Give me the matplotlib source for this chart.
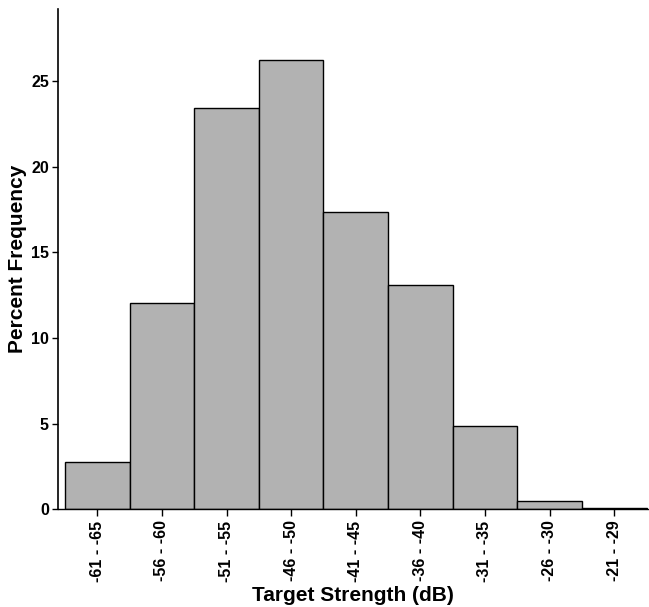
import matplotlib
matplotlib.use("Agg")
import matplotlib.pyplot as plt
import numpy as np

categories = ["-61 - -65", "-56 - -60", "-51 - -55", "-46 - -50", "-41 - -45",
              "-36 - -40", "-31 - -35", "-26 - -30", "-21 - -29"]
percent = [2.75, 12.05, 23.4, 26.25, 17.35, 13.1, 4.85, 0.5, 0.06]
yticks = [0, 5, 10, 15, 20, 25]

plt.rcParams['font.family'] = ['Liberation Sans', 'DejaVu Sans']

fig = plt.figure(figsize=(6.49, 6.07), dpi=100)
ax = fig.add_axes([58/649, (607-509.3)/607, 590/649, 500.3/607])

x = np.arange(len(categories))
ax.bar(x, percent, width=1.0, color="#b2b2b2", edgecolor="black", linewidth=1.0)

ax.set_xlim(-0.608, 8.523)
ax.set_ylim(0, 29.2)
ax.set_xticks(x)
ax.set_xticklabels(categories, rotation=90, fontsize=11.5, fontweight='bold')
ax.set_yticks(yticks)
ax.set_yticklabels([str(t) for t in yticks], fontsize=11.5, fontweight='bold')
ax.tick_params(axis='y', length=4, width=1, pad=2.5)
ax.tick_params(axis='x', length=5, width=1, pad=3)

for s in ['top', 'right']:
    ax.spines[s].set_visible(False)
ax.spines['left'].set_linewidth(1.2)
ax.spines['bottom'].set_linewidth(1.0)

ax.set_ylabel("Percent Frequency", fontsize=15, fontweight='bold', labelpad=3)
ax.set_xlabel("Target Strength (dB)", fontsize=15, fontweight='bold', labelpad=3)

fig.savefig("out.png", dpi=100)
